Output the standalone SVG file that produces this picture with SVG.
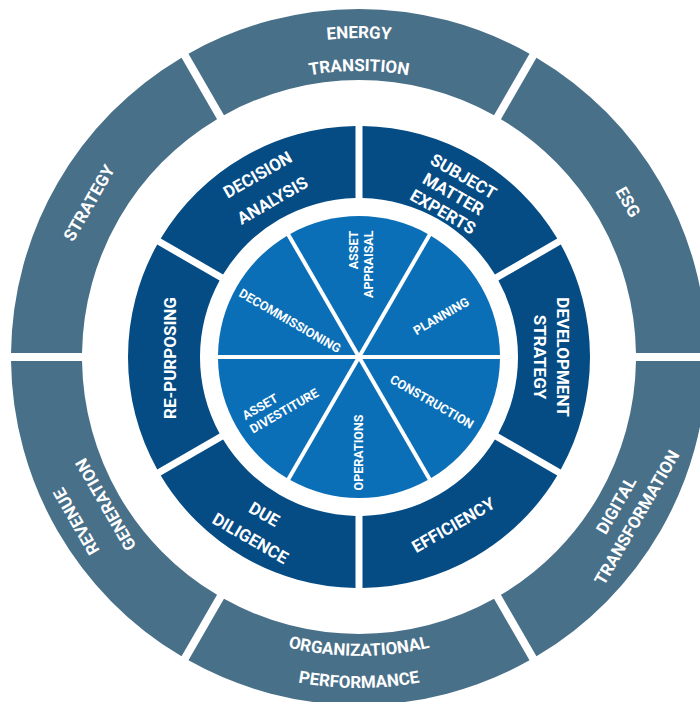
<svg xmlns="http://www.w3.org/2000/svg" width="700" height="702" viewBox="0 0 700 702">
<style>
.outer{fill:#497089}
.mid{fill:#054c85}
.pie{fill:#0b6fb8}
text{fill:#ffffff;font-family:Roboto,"Liberation Sans",Arial,sans-serif;font-weight:700;text-anchor:middle}
.to{font-size:17px}
.tm{font-size:17px}
.tp{font-size:12.5px}
.c{dominant-baseline:central}
</style>
<defs>
<path id="arcEnergy" d="M40,357 A319,319 0 0 1 678,357"/>
<path id="arcTransition" d="M73,357 A286,286 0 0 1 645,357"/>
<path id="arcOrg" d="M60,357 A299,299 0 0 0 658,357"/>
<path id="arcPerf" d="M28,357 A331,331 0 0 0 690,357"/>
</defs>
<rect width="700" height="702" fill="#ffffff"/>

<!-- Outer ring -->
<g id="energy-transition">
<path class="outer" d="M529.525,53.644 A348,348 0 0 0 188.475,53.643 L223.978,115.133 A277,277 0 0 1 494.022,115.133 Z"/>
<text class="to"><textPath href="#arcEnergy" startOffset="50%">ENERGY</textPath></text>
<text class="to"><textPath href="#arcTransition" startOffset="50%">TRANSITION</textPath></text>
</g>
<g id="esg">
<path class="outer" d="M706.977,353 A348,348 0 0 0 536.453,57.644 L500.950,119.133 A277,277 0 0 1 635.971,353 Z"/>
<text class="to c" transform="translate(628,202) rotate(60)">ESG</text>
</g>
<g id="strategy">
<path class="outer" d="M181.547,57.643 A348,348 0 0 0 11.023,353 L82.029,353 A277,277 0 0 1 217.050,119.133 Z"/>
<text class="to c" transform="translate(89,203) rotate(-60)">STRATEGY</text>
</g>
<g id="revenue-generation">
<path class="outer" d="M11.023,361 A348,348 0 0 0 181.547,656.357 L217.050,594.867 A277,277 0 0 1 82.029,361 Z"/>
<g transform="translate(91,513) rotate(-120)">
<text class="to c" x="0" y="-17">REVENUE</text>
<text class="to c" x="0" y="17">GENERATION</text>
</g>
</g>
<g id="organizational-performance">
<path class="outer" d="M188.475,660.357 A348,348 0 0 0 529.525,660.357 L494.022,598.867 A277,277 0 0 1 223.978,598.867 Z"/>
<text class="to"><textPath href="#arcOrg" startOffset="50%">ORGANIZATIONAL</textPath></text>
<text class="to"><textPath href="#arcPerf" startOffset="50%">PERFORMANCE</textPath></text>
</g>
<g id="digital-transformation">
<path class="outer" d="M536.453,656.357 A348,348 0 0 0 706.977,361 L635.971,361 A277,277 0 0 1 500.950,594.867 Z"/>
<g transform="translate(626.5,511.5) rotate(-60)">
<text class="to c" x="0" y="-12">DIGITAL</text>
<text class="to c" x="0" y="12">TRANSFORMATION</text>
</g>
</g>

<!-- Middle ring -->
<g id="subject-matter-experts">
<path class="mid" d="M557.279,238.482 A231,231 0 0 0 362.5,126.027 L362.5,198.039 A159,159 0 0 1 494.915,274.488 Z"/>
<g transform="translate(453.3,194) rotate(30)">
<text class="tm c" x="0" y="-20.5">SUBJECT</text>
<text class="tm c" x="0" y="0">MATTER</text>
<text class="tm c" x="0" y="20.5">EXPERTS</text>
</g>
</g>
<g id="decision-analysis">
<path class="mid" d="M355.5,126.027 A231,231 0 0 0 160.721,238.482 L223.085,274.488 A159,159 0 0 1 355.5,198.039 Z"/>
<g transform="translate(265,187.5) rotate(-30)">
<text class="tm c" x="0" y="-14.8">DECISION</text>
<text class="tm c" x="0" y="14.8">ANALYSIS</text>
</g>
</g>
<g id="re-purposing">
<path class="mid" d="M157.221,244.544 A231,231 0 0 0 157.221,469.456 L219.585,433.450 A159,159 0 0 1 219.585,280.550 Z"/>
<text class="tm c" transform="translate(170,358) rotate(-90)">RE-PURPOSING</text>
</g>
<g id="due-diligence">
<path class="mid" d="M160.721,475.518 A231,231 0 0 0 355.5,587.974 L355.5,515.962 A159,159 0 0 1 223.085,439.512 Z"/>
<g transform="translate(257.3,526.2) rotate(30)">
<text class="tm c" x="0" y="-13.9">DUE</text>
<text class="tm c" x="0" y="13.9">DILIGENCE</text>
</g>
</g>
<g id="efficiency">
<path class="mid" d="M362.5,587.974 A231,231 0 0 0 557.279,475.518 L494.915,439.512 A159,159 0 0 1 362.5,515.962 Z"/>
<text class="tm c" transform="translate(453.3,525) rotate(-30)">EFFICIENCY</text>
</g>
<g id="development-strategy">
<path class="mid" d="M560.779,469.456 A231,231 0 0 0 560.779,244.544 L498.415,280.550 A159,159 0 0 1 498.415,433.450 Z"/>
<g transform="translate(551.5,357) rotate(90)">
<text class="tm c" x="0" y="-11.5">DEVELOPMENT</text>
<text class="tm c" x="0" y="11.5">STRATEGY</text>
</g>
</g>

<!-- Inner pie -->
<g id="planning">
<path class="pie" d="M362.464,355 L499.986,355 A141,141 0 0 0 431.225,235.903 Z"/>
<text class="tp c" transform="translate(441,316) rotate(-30)">PLANNING</text>
</g>
<g id="asset-appraisal">
<path class="pie" d="M359,353 L427.761,233.903 A141,141 0 0 0 290.239,233.903 Z"/>
<text class="tp c" transform="translate(353.4,250) rotate(-90)">ASSET</text>
<text class="tp c" transform="translate(368.7,264.2) rotate(-90)">APPRAISAL</text>
</g>
<g id="decommissioning">
<path class="pie" d="M355.536,355 L286.775,235.903 A141,141 0 0 0 218.014,355 Z"/>
<text class="tp c" transform="translate(290,320.7) rotate(30)">DECOMMISSIONING</text>
</g>
<g id="asset-divestiture">
<path class="pie" d="M355.536,359 L218.014,359 A141,141 0 0 0 286.775,478.097 Z"/>
<text class="tp c" transform="translate(260,406.7) rotate(-30)">ASSET</text>
<text class="tp c" transform="translate(284,410.7) rotate(-30)">DIVESTITURE</text>
</g>
<g id="operations">
<path class="pie" d="M359,361 L290.239,480.097 A141,141 0 0 0 427.761,480.097 Z"/>
<text class="tp c" transform="translate(358.3,452.5) rotate(-90)">OPERATIONS</text>
</g>
<g id="construction">
<path class="pie" d="M362.464,359 L431.225,478.097 A141,141 0 0 0 499.986,359 Z"/>
<text class="tp c" transform="translate(432,401.7) rotate(30)">CONSTRUCTION</text>
</g>
<g id="connectors"></g>
</svg>
